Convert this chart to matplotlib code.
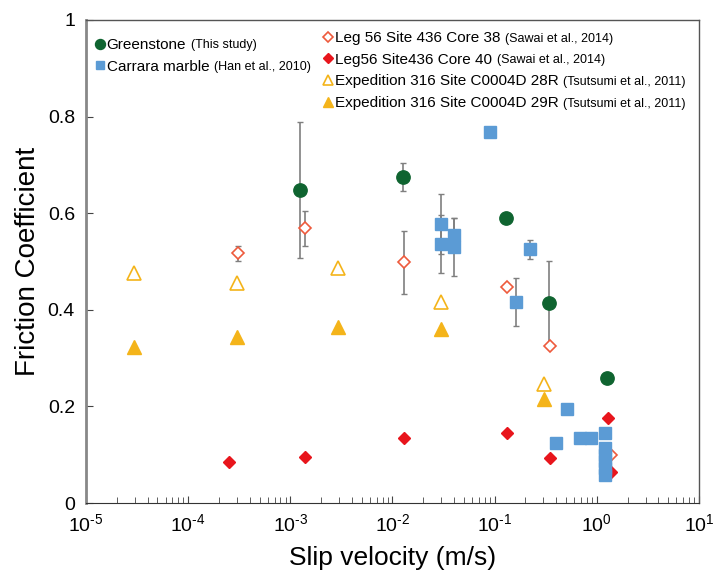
import numpy as np
import matplotlib
matplotlib.use("Agg")
import matplotlib.pyplot as plt

plt.rcParams["font.family"] = ["Liberation Sans", "DejaVu Sans"]
plt.rcParams["mathtext.fontset"] = "custom"
plt.rcParams["mathtext.rm"] = "Liberation Sans"
plt.rcParams["mathtext.it"] = "Liberation Sans"

# Greenstone (This study)
gs_v = [1.24e-3, 0.0126, 0.128, 0.340, 1.26]
gs_mu = [0.648, 0.675, 0.591, 0.415, 0.259]
gs_err = [0.141, 0.029, 0.0, 0.086, 0.0]

# Carrara marble (Han et al., 2010)
cm_v = [0.0906, 0.0297, 0.0297, 0.040, 0.040, 0.220, 0.162, 0.507, 0.398,
        0.684, 0.877, 1.20, 1.20, 1.20, 1.20, 1.20, 1.20]
cm_mu = [0.769, 0.577, 0.537, 0.555, 0.531, 0.525, 0.416, 0.195, 0.125,
         0.135, 0.135, 0.145, 0.114, 0.100, 0.086, 0.072, 0.058]
cm_err = [0.0, 0.062, 0.060, 0.035, 0.060, 0.020, 0.050, 0.0, 0.0,
          0.0, 0.0, 0.0, 0.0, 0.0, 0.0, 0.0, 0.0]

# Leg 56 Site 436 Core 38 (Sawai et al., 2014)
c38_v = [3.08e-4, 1.39e-3, 0.0129, 0.131, 0.345, 1.37]
c38_mu = [0.517, 0.569, 0.498, 0.447, 0.325, 0.100]
c38_err = [0.015, 0.036, 0.066, 0.0, 0.0, 0.0]

# Leg56 Site436 Core 40 (Sawai et al., 2014)
c40_v = [2.49e-4, 1.38e-3, 0.0129, 0.131, 0.348, 1.29, 1.37]
c40_mu = [0.085, 0.095, 0.134, 0.144, 0.094, 0.176, 0.065]

# Expedition 316 Site C0004D 28R / 29R (Tsutsumi et al., 2011)
exp_v = [2.95e-5, 2.99e-4, 2.92e-3, 0.0297, 0.302]
r28_mu = [0.476, 0.456, 0.487, 0.416, 0.246]
r29_mu = [0.324, 0.344, 0.364, 0.360, 0.215]

names = ["Greenstone", "Carrara marble", "Leg 56 Site 436 Core 38",
         "Leg56 Site436 Core 40", "Expedition 316 Site C0004D 28R",
         "Expedition 316 Site C0004D 29R"]
refs = ["(This study)", "(Han et al., 2010)", "(Sawai et al., 2014)",
        "(Sawai et al., 2014)", "(Tsutsumi et al., 2011)", "(Tsutsumi et al., 2011)"]

x_ticks = [1e-5, 1e-4, 1e-3, 1e-2, 1e-1, 1e0, 1e1]
x_labels = [r"$10^{\text{-}5}$", r"$10^{\text{-}4}$", r"$10^{\text{-}3}$", r"$10^{\text{-}2}$",
            r"$10^{\text{-}1}$", r"$10^{0}$", r"$10^{1}$"]
y_ticks = [0, 0.2, 0.4, 0.6, 0.8, 1.0]
y_labels = ["0", "0.2", "0.4", "0.6", "0.8", "1"]

green = "#0F6430"
blue = "#5B9BD5"
red_open = "#EE5A3C"
red = "#E8151C"
gold = "#F4B41A"
ecol = "#7F7F7F"

fig = plt.figure(figsize=(7.13, 5.74), dpi=100)
ax = fig.add_axes([86 / 713, 1 - 503 / 574, 613 / 713, 483 / 574])

ax.errorbar(c38_v, c38_mu, yerr=c38_err, fmt="none", ecolor=ecol, elinewidth=1.2, capsize=2.5, zorder=2)
ax.errorbar(cm_v, cm_mu, yerr=cm_err, fmt="none", ecolor=ecol, elinewidth=1.2, capsize=2.5, zorder=2)
ax.errorbar(gs_v, gs_mu, yerr=gs_err, fmt="none", ecolor=ecol, elinewidth=1.2, capsize=2.5, zorder=2)

h_c38, = ax.plot(c38_v, c38_mu, "D", ls="none", ms=6.3, mfc="white", mec=red_open, mew=1.2, zorder=3)
h_c40, = ax.plot(c40_v, c40_mu, "D", ls="none", ms=6.6, color=red, zorder=3)
h_r28, = ax.plot(exp_v, r28_mu, "^", ls="none", ms=9.5, mfc="white", mec=gold, mew=1.2, zorder=3)
h_r29, = ax.plot(exp_v, r29_mu, "^", ls="none", ms=9.8, color=gold, zorder=3)
h_cm, = ax.plot(cm_v, cm_mu, "s", ls="none", ms=8, color=blue, zorder=4)
h_gs, = ax.plot(gs_v, gs_mu, "o", ls="none", ms=9.6, color=green, zorder=5)

ax.set_xscale("log")
ax.set_xlim(1e-5, 10)
ax.set_ylim(0, 1)
ax.set_xticks(x_ticks)
ax.set_xticklabels(x_labels)
ax.set_yticks(y_ticks)
ax.set_yticklabels(y_labels)
ax.tick_params(axis="both", which="both", direction="in", labelsize=14, colors="#444444", labelcolor="black")
ax.tick_params(axis="x", which="major", length=5, pad=7)
ax.tick_params(axis="x", which="minor", length=4)
ax.tick_params(axis="y", length=5, pad=8)
for s in ["top", "right"]:
    ax.spines[s].set_color("#555555")
    ax.spines[s].set_linewidth(1)
ax.spines["left"].set_color("#888888")
ax.spines["left"].set_linewidth(2)
ax.spines["bottom"].set_color("#333333")

ax.set_xlabel("Slip velocity (m/s)", fontsize=19, labelpad=8)
ax.set_ylabel("Friction Coefficient", fontsize=20, labelpad=5)

leg1 = ax.legend([h_gs, h_cm], names[:2], loc="upper left", bbox_to_anchor=(-0.005, 0.985),
                 frameon=False, fontsize=11, handlelength=0.8, handletextpad=0.05,
                 labelspacing=0.5, borderaxespad=0.3, markerscale=0.75)
ax.add_artist(leg1)
leg2 = ax.legend([h_c38, h_c40, h_r28, h_r29], names[2:], loc="upper left",
                 bbox_to_anchor=(0.367, 0.999), frameon=False, fontsize=11,
                 handlelength=0.8, handletextpad=0.05, labelspacing=0.5,
                 borderaxespad=0.3, markerscale=0.75)

# reference notes in a smaller font, placed right after each legend label
fig.canvas.draw()
renderer = fig.canvas.get_renderer()
texts = list(leg1.get_texts()) + list(leg2.get_texts())
for t, r in zip(texts, refs):
    bb = t.get_window_extent(renderer)
    fig.text(bb.x1 + 5, bb.y0 + 0.5, r, transform=None, fontsize=9, va="bottom", ha="left")

fig.savefig("out.png", dpi=100)
